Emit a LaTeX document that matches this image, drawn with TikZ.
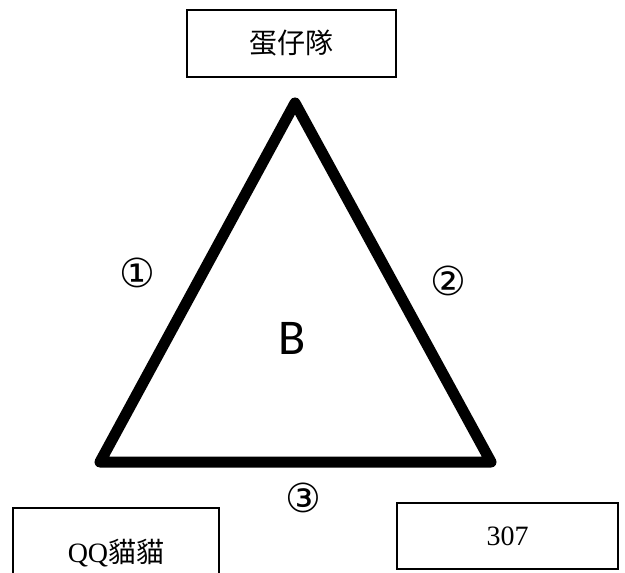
\documentclass[tikz,border=0pt]{standalone}
\usepackage{fontspec}
\setmainfont{Liberation Serif}
\newfontfamily\cjkfont{Noto Sans CJK TC}
\newfontfamily\symfont{DejaVu Sans}
\newfontfamily\letterfont{Carlito}
\tikzset{
  namebox/.style={draw, line width=0.7pt, inner sep=0pt, font=\fontsize{14}{16}\selectfont},
  circnum/.style={font=\symfont\fontsize{20}{22}\selectfont},
  thickside/.style={line width=5.5pt, line join=round, line cap=round}
}
\begin{document}
\begin{tikzpicture}[x=0.5pt, y=-0.5pt]
        \useasboundingbox (0,0) rectangle (625,572);
        \clip (0,0) rectangle (625,572);
        % team boxes
        \node[namebox, minimum width=104.5pt, minimum height=33.5pt] (top) at (291.5,43.5) {\cjkfont 蛋仔隊};
        \node[namebox, minimum width=103pt, minimum height=45pt] (left) at (116,553) {QQ{\cjkfont 貓貓}};
        \node[namebox, minimum width=110.5pt, minimum height=33pt] (right) at (507.5,536) {307};
        % triangle corners
        \coordinate (apex) at (295,103);
        \coordinate (bl) at (100,462);
        \coordinate (br) at (491,462);
        \draw[thickside] (apex) -- (bl) -- (br) -- cycle;
        % side numbers
        \node[circnum] (one) at (137,273) {①};
        \node[circnum] (two) at (448,281) {②};
        \node[circnum] (three) at (303,498) {③};
        \node[font=\letterfont\fontsize{25}{28}\selectfont] (b) at (292,338) {B};
    \end{tikzpicture}
\end{document}
